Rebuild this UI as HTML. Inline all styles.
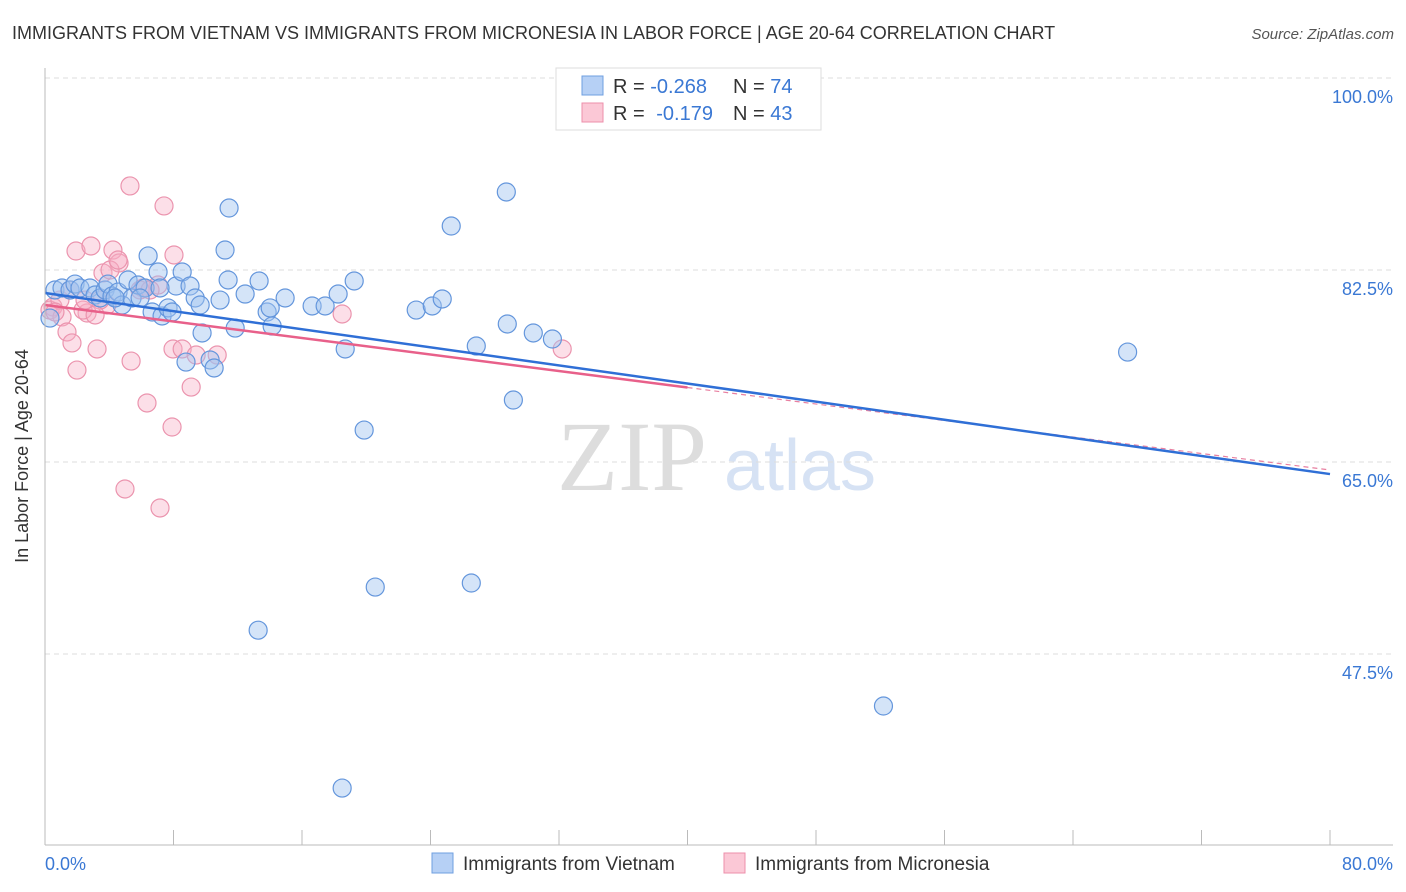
<!DOCTYPE html>
<html><head><meta charset="utf-8"><style>
body{margin:0;background:#fff;font-family:"Liberation Sans",sans-serif;}
#c{position:relative;width:1406px;height:892px;overflow:hidden}
</style></head><body>
<div id="c">
<svg width="1406" height="892" id="svg">
<text x="12" y="39" font-size="18" fill="#333">IMMIGRANTS FROM VIETNAM VS IMMIGRANTS FROM MICRONESIA IN LABOR FORCE | AGE 20-64 CORRELATION CHART</text>
<text x="1394" y="39" font-size="15" fill="#555" font-style="italic" text-anchor="end">Source: ZipAtlas.com</text>
<text x="632" y="490" font-size="100" fill="#ddd" font-family="Liberation Serif,serif" text-anchor="middle">ZIP</text>
<text x="800" y="490" font-size="72" fill="#d6e2f4" text-anchor="middle">atlas</text>
<g id="grid"></g><g id="pts"></g><g id="trend"></g>
<line x1="45" y1="68" x2="45" y2="845" stroke="#bbb"/>
<line x1="45" y1="845" x2="1393" y2="845" stroke="#bbb"/>
<text x="28" y="456" font-size="18" fill="#333" text-anchor="middle" transform="rotate(-90 28 456)">In Labor Force | Age 20-64</text>
<text x="45" y="870" font-size="18" fill="#3a78d4">0.0%</text>
<text x="1393" y="870" font-size="18" fill="#3a78d4" text-anchor="end">80.0%</text>
<g>
<rect x="556" y="68" width="265" height="62" fill="#fff" stroke="#ddd"/>
<rect x="582" y="76" width="21" height="19" fill="#b6d0f5" stroke="#6f9fe0"/>
<rect x="582" y="103" width="21" height="19" fill="#fbc8d6" stroke="#ec8fab"/>
<text x="613" y="93" font-size="20" fill="#333">R = <tspan fill="#3a78d4">-0.268</tspan></text>
<text x="733" y="93" font-size="20" fill="#333">N = <tspan fill="#3a78d4">74</tspan></text>
<text x="613" y="120" font-size="20" fill="#333">R = <tspan fill="#3a78d4" dx="6">-0.179</tspan></text>
<text x="733" y="120" font-size="20" fill="#333">N = <tspan fill="#3a78d4">43</tspan></text>
</g>
<g>
<rect x="432" y="853" width="21" height="20" fill="#b6d0f5" stroke="#6f9fe0"/>
<text x="463" y="870" font-size="19" fill="#333">Immigrants from Vietnam</text>
<rect x="724" y="853" width="21" height="20" fill="#fbc8d6" stroke="#ec8fab"/>
<text x="755" y="870" font-size="19" fill="#333">Immigrants from Micronesia</text>
</g>
</svg></div>
<script>
const yTicks=[100,82.5,65,47.5];
const yTickLabels=["100.0%","82.5%","65.0%","47.5%"];
const xTicks=[0,8,16,24,32,40,48,56,64,72,80];
const vietnam=[[0.62,80.68],[1.06,80.86],[1.56,80.68],[1.87,81.22],[2.18,80.86],[2.8,80.86],[3.12,80.22],[3.43,79.95],[3.74,80.68],[3.92,81.22],[4.17,80.13],[4.55,80.49],[4.8,79.31],[5.17,81.59],[5.42,79.95],[5.79,81.13],[6.23,80.86],[6.42,83.78],[6.67,78.67],[7.04,82.32],[7.29,78.31],[7.66,79.04],[7.91,78.67],[8.16,81.04],[8.54,82.32],[8.78,74.11],[9.03,81.04],[9.35,79.95],[9.66,79.31],[9.78,76.76],[10.28,74.3],[10.53,73.57],[10.9,79.76],[11.21,84.32],[11.46,88.15],[11.4,81.59],[11.84,77.21],[12.46,80.31],[13.33,81.5],[13.83,78.67],[14.02,79.04],[14.14,77.39],[14.95,79.95],[16.63,79.22],[17.44,79.22],[18.25,80.31],[18.69,75.3],[19.25,81.5],[19.87,67.91],[20.56,53.6],[23.11,78.85],[24.11,79.22],[24.73,79.86],[25.29,86.51],[26.54,53.97],[26.85,75.57],[28.72,89.61],[28.78,77.58],[29.16,70.65],[30.4,76.76],[31.59,76.21],[13.27,49.67],[18.5,35.28],[52.2,42.76],[67.4,75.02],[43.17,99.82],[0.31,78.12],[7.16,80.86],[5.92,79.95],[4.36,79.95]];
const micronesia=[[5.29,90.16],[7.41,88.34],[1.93,84.23],[2.86,84.69],[4.23,84.32],[4.61,83.14],[3.61,82.23],[4.05,82.5],[8.03,83.87],[7.04,81.13],[6.1,80.86],[0.5,79.13],[0.31,78.85],[1.06,78.22],[1.37,76.85],[1.68,75.85],[3.24,75.3],[1.99,73.38],[5.36,74.2],[2.62,78.58],[3.86,79.31],[7.97,75.3],[8.54,75.3],[9.41,74.75],[10.72,74.75],[9.1,71.83],[6.35,70.38],[7.91,68.19],[18.5,78.49],[2.37,78.85],[4.98,62.54],[7.16,60.81],[32.2,75.3],[2.49,79.76],[3.43,79.76],[0.93,79.76],[4.55,83.41],[5.92,80.68],[3.12,78.4],[0.62,78.67],[1.56,80.68],[6.54,80.68]];
const vietnamTrend=[80.4,63.9];
const micronesiaTrend=[79.31,64.27];
const micronesiaSolidEnd=40;
const NS="http://www.w3.org/2000/svg";
const X=v=>45+v/80*1285, Y=v=>78+(100-v)/17.5*192;
function mk(t,a,p){const e=document.createElementNS(NS,t);for(const k in a)e.setAttribute(k,a[k]);p.appendChild(e);return e;}
const grid=document.getElementById('grid');
yTicks.forEach((t,i)=>{
 const l=mk('line',{x1:45,x2:1393,y1:Y(t),y2:Y(t),stroke:'#ddd','stroke-dasharray':'5,4'},grid);
 
 
 const tx=mk('text',{x:1393,y:Y(t)+25,'font-size':18,fill:'#3a78d4','text-anchor':'end'},grid);
 tx.textContent=yTickLabels[i];
 
 
});
xTicks.forEach(t=>{
 const l=mk('line',{x1:X(t),x2:X(t),y1:830,y2:845,stroke:'#bbb'},grid);
 
 
});
const pts=document.getElementById('pts');
micronesia.forEach(d=>{
 const c=mk('circle',{cx:X(d[0]),cy:Y(d[1]),r:9,fill:'rgba(248,175,198,0.4)',stroke:'#eb94ae','stroke-width':1.2},pts);
 
 
});
vietnam.forEach(d=>{
 const c=mk('circle',{cx:X(d[0]),cy:Y(d[1]),r:9,fill:'rgba(160,196,240,0.45)',stroke:'#6496dc','stroke-width':1.2},pts);
 
 
});
const tr=document.getElementById('trend');
const pAt=x=>micronesiaTrend[0]+(micronesiaTrend[1]-micronesiaTrend[0])*x/80;
const pd=mk('line',{x1:X(micronesiaSolidEnd),y1:Y(pAt(micronesiaSolidEnd)),x2:X(80),y2:Y(micronesiaTrend[1]),stroke:'#e87fa0','stroke-width':1.2,'stroke-dasharray':'5,4'},tr);


const bl=mk('line',{x1:X(0),y1:Y(vietnamTrend[0]),x2:X(80),y2:Y(vietnamTrend[1]),stroke:'#2f6fd6','stroke-width':2.5},tr);


const pl=mk('line',{x1:X(0),y1:Y(micronesiaTrend[0]),x2:X(micronesiaSolidEnd),y2:Y(pAt(micronesiaSolidEnd)),stroke:'#e8608a','stroke-width':2.5},tr);


</script>
</body></html>
